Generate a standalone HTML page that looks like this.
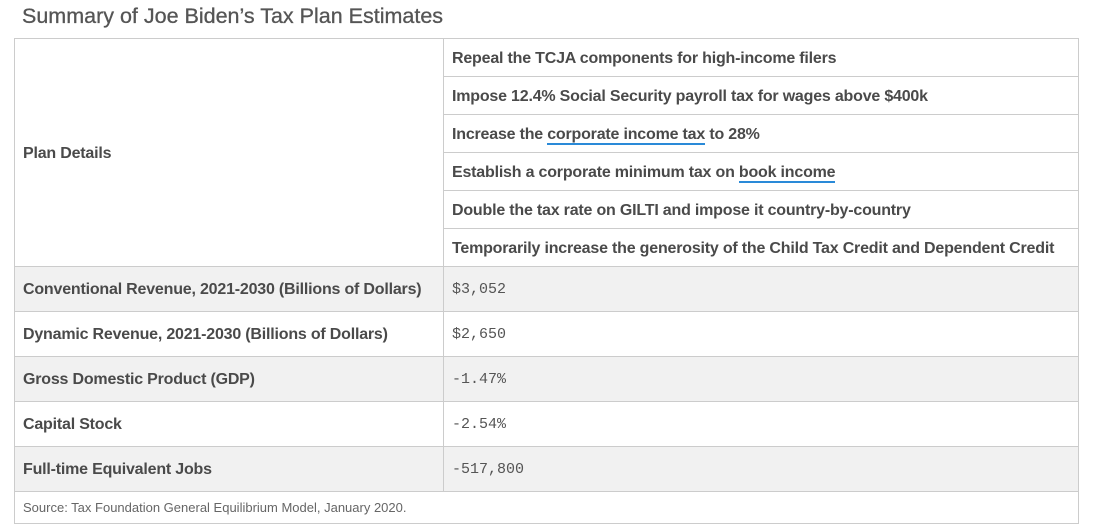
<!DOCTYPE html>
<html><head><meta charset="utf-8"><style>
body{margin:0;width:1109px;height:531px;background:#fff;position:relative;overflow:hidden;font-family:"Liberation Sans",sans-serif;color:#444;}
.t{position:absolute;white-space:nowrap;}
.b{position:absolute;background:#ccc;}
.g{position:absolute;background:#f1f1f1;left:15px;width:1063px;height:45px;}
.m{font-family:"Liberation Mono",monospace;font-size:15px;color:#555;}
.f{font-size:16px;font-weight:bold;color:#4a4a4a;letter-spacing:-0.2px}
.u{border-bottom:2px solid #2a8ad8;}
</style></head><body>
<div class="t" style="left:22px;top:4px;font-size:21.5px;color:#555;-webkit-text-stroke:0.3px #555;">Summary of Joe Biden’s Tax Plan Estimates</div>
<div class="g" style="top:266px"></div>
<div class="g" style="top:356px"></div>
<div class="g" style="top:446px"></div>
<div class="b" style="left:14px;top:38px;width:1065px;height:1px"></div>
<div class="b" style="left:14px;top:38px;width:1px;height:486px"></div>
<div class="b" style="left:1078px;top:38px;width:1px;height:486px"></div>
<div class="b" style="left:14px;top:523px;width:1065px;height:1px"></div>
<div class="b" style="left:443px;top:38px;width:1px;height:453px"></div>
<div class="b" style="left:443px;top:76px;width:635px;height:1px"></div>
<div class="b" style="left:443px;top:114px;width:635px;height:1px"></div>
<div class="b" style="left:443px;top:152px;width:635px;height:1px"></div>
<div class="b" style="left:443px;top:190px;width:635px;height:1px"></div>
<div class="b" style="left:443px;top:228px;width:635px;height:1px"></div>
<div class="b" style="left:14px;top:266px;width:1065px;height:1px"></div>
<div class="b" style="left:14px;top:311px;width:1065px;height:1px"></div>
<div class="b" style="left:14px;top:356px;width:1065px;height:1px"></div>
<div class="b" style="left:14px;top:401px;width:1065px;height:1px"></div>
<div class="b" style="left:14px;top:446px;width:1065px;height:1px"></div>
<div class="b" style="left:14px;top:491px;width:1065px;height:1px"></div>

<div class="t f" style="left:23px;top:145px">Plan Details</div>
<div class="t f" style="left:452px;top:50px">Repeal the TCJA components for high-income filers</div>
<div class="t f" style="left:452px;top:88px">Impose 12.4% Social Security payroll tax for wages above $400k</div>
<div class="t f" style="left:452px;top:126px">Increase the <span class="u">corporate income tax</span> to 28%</div>
<div class="t f" style="left:452px;top:164px">Establish a corporate minimum tax on <span class="u">book income</span></div>
<div class="t f" style="left:452px;top:202px">Double the tax rate on GILTI and impose it country-by-country</div>
<div class="t f" style="left:452px;top:240px">Temporarily increase the generosity of the Child Tax Credit and Dependent Credit</div>

<div class="t f" style="left:23px;top:281px">Conventional Revenue, 2021-2030 (Billions of Dollars)</div>
<div class="t f" style="left:23px;top:326px">Dynamic Revenue, 2021-2030 (Billions of Dollars)</div>
<div class="t f" style="left:23px;top:371px">Gross Domestic Product (GDP)</div>
<div class="t f" style="left:23px;top:416px">Capital Stock</div>
<div class="t f" style="left:23px;top:461px">Full-time Equivalent Jobs</div>

<div class="t m" style="left:452px;top:281px">$3,052</div>
<div class="t m" style="left:452px;top:326px">$2,650</div>
<div class="t m" style="left:452px;top:371px">-1.47%</div>
<div class="t m" style="left:452px;top:416px">-2.54%</div>
<div class="t m" style="left:452px;top:461px">-517,800</div>

<div class="t" style="left:23px;top:500px;font-size:13px;color:#666;">Source: Tax Foundation General Equilibrium Model, January 2020.</div>
</body></html>
